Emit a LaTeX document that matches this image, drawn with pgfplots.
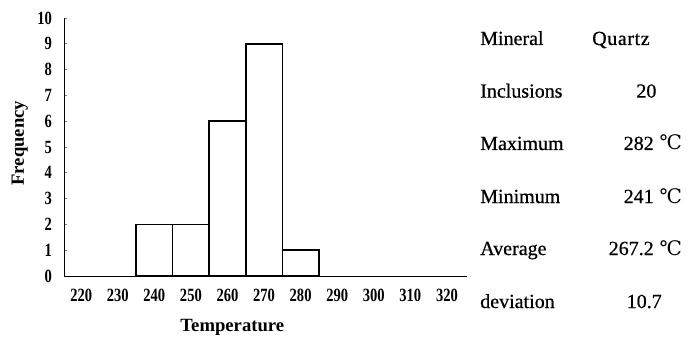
\documentclass[border=0pt]{standalone}
\usepackage{fontspec}
\setmainfont{Liberation Serif}
\newfontface\tickfont{Liberation Serif Bold}[FakeStretch=0.78]
\newfontface\statfont{Liberation Serif}[FakeBold=0.6]
\newfontfamily\symfont{DejaVu Serif}
\usepackage{pgfplots}
\pgfplotsset{compat=1.18}

\begin{document}
\begin{tikzpicture}
\useasboundingbox (0,0) rectangle (516pt,252pt);
\begin{axis}[
  at={(48pt,45pt)}, anchor=south west,
  scale only axis, width=302pt, height=193.5pt,
  xmin=215.3, xmax=325.4, ymin=0, ymax=10,
  axis x line=bottom, axis y line=left,
  axis line style={-, line width=0.6pt},
  xtick={220,230,...,320}, ytick={0,1,...,10},
  x tick style={draw=none},
  y tick style={line width=0.6pt},
  major tick length=2pt, tick align=inside,
  /pgf/number format/assume math mode=true,
  /pgf/number format/1000 sep={},
  ticklabel style={font=\tickfont\fontsize{14}{14}\selectfont},
  xticklabel style={yshift=-6.5pt},
  yticklabel style={xshift=-5.5pt},
  xlabel={Temperature}, ylabel={Frequency},
  label style={font=\bfseries\fontsize{14}{16}\selectfont},
  xlabel style={at={(axis description cs:0.418,-0.198)}, anchor=center},
  ylabel style={at={(axis description cs:-0.11,0.515)}, anchor=center},
  clip=false,
]
% histogram of homogenisation temperatures, 10-degree bins
\addplot[ybar interval, draw=black, fill=white, line width=1.2pt]
  coordinates {(235,2) (245,2) (255,6) (265,9) (275,1) (285,1)};
\end{axis}

% summary statistics
\begin{scope}[every node/.style={font=\statfont\fontsize{15}{18}\selectfont, inner sep=0pt}]
\node[anchor=base west] at (360pt,218.25pt) {Mineral};
\node[anchor=base west] at (360pt,178.8pt) {Inclusions};
\node[anchor=base west] at (360pt,139.5pt) {Maximum};
\node[anchor=base west] at (360pt,99.75pt) {Minimum};
\node[anchor=base west] at (360pt,60.75pt) {Average};
\node[anchor=base west] at (360pt,21pt) {deviation};

\node[anchor=base west] at (444pt,218.25pt) {\addfontfeatures{LetterSpace=3}Quartz};
\node[anchor=base east] at (492.5pt,178.8pt) {20};
\node[anchor=base east] at (490.5pt,139.5pt) {282};
\node[anchor=base east] at (490.5pt,99.75pt) {241};
\node[anchor=base east] at (490.5pt,60.75pt) {267.2};
\node[anchor=base east] at (496.5pt,21pt) {10.7};
\node[anchor=base west] at (494.5pt,139.5pt) {\symfont ℃};
\node[anchor=base west] at (494.5pt,99.75pt) {\symfont ℃};
\node[anchor=base west] at (494.5pt,60.75pt) {\symfont ℃};
\end{scope}
\end{tikzpicture}
\end{document}
